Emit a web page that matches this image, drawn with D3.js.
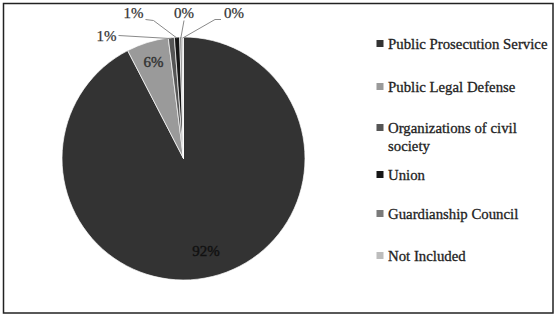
<!DOCTYPE html>
<html lang="en">
  <head>
    <meta charset="utf-8">
    <title>Pie chart</title>
    <style>
      body { margin: 0; background: #fff; }
      text { font-family: "Liberation Serif", "DejaVu Serif", serif; }
    </style>
  </head>
  <body>
    <div id="chart"></div>
    <script src="https://cdn.jsdelivr.net/npm/d3@7"></script>
    <script>
      // data
      var categories = ["Public Prosecution Service", "Public Legal Defense", "Organizations of civil society",
                        "Union", "Guardianship Council", "Not Included"];
      var shares = [92.4, 5.6, 0.8, 0.7, 0.3, 0.2];
      var shareLabels = ["92%", "6%", "1%", "1%", "0%", "0%"];
      var colors = ["#333333", "#9a9a9a", "#555555", "#161616", "#7a7a7a", "#bdbdbd"];

      // legend lines (the third entry wraps)
      var legendLines = [["Public Prosecution Service"], ["Public Legal Defense"], ["Organizations of civil", "society"],
                         ["Union"], ["Guardianship Council"], ["Not Included"]];

      var W = 558, H = 317;
      var cx = 183.5, cy = 158.5, r = 121.5;

      var svg = d3.select("#chart").append("svg")
        .attr("width", W).attr("height", H);

      svg.append("rect")
        .attr("x", 3.5).attr("y", 3.5)
        .attr("width", 549.5).attr("height", 309.5)
        .attr("fill", "#fff").attr("stroke", "#222").attr("stroke-width", 1.5);

      var pie = d3.pie().sort(null).value(function(d) { return d; });
      var arcs = pie(shares);
      var arc = d3.arc().innerRadius(0).outerRadius(r);

      var g = svg.append("g").attr("transform", "translate(" + cx + "," + cy + ")");

      g.selectAll("path.slice")
        .data(arcs)
        .enter().append("path")
          .attr("class", "slice")
          .attr("d", arc)
          .attr("fill", function(d, i) { return colors[i]; })
          .attr("stroke", "#fff")
          .attr("stroke-width", 0.7);

      // label placement (relative to pie centre); null = inside the slice
      var calloutAt = [null, null, [-77, -123], [-50, -146], [0.5, -146], [50.5, -146]];
      var insideR = [0.78, 0.83];
      var insideInk = ["#111", "#333"];

      arcs.forEach(function(d, i) {
        var mid = (d.startAngle + d.endAngle) / 2;
        if (calloutAt[i] === null) {
          var rr = r * insideR[i];
          g.append("text")
            .attr("x", Math.sin(mid) * rr)
            .attr("y", -Math.cos(mid) * rr)
            .attr("dy", "0.35em")
            .attr("text-anchor", "middle")
            .attr("font-size", 15)
            .attr("fill", insideInk[i])
            .attr("stroke", insideInk[i]).attr("stroke-width", 0.4)
            .text(shareLabels[i]);
        } else {
          var p = calloutAt[i];
          var ex = Math.sin(mid) * (r - 1), ey = -Math.cos(mid) * (r - 1);
          var sx, sy;
          if (i === 2) { sx = p[0] + 12; sy = p[1]; }
          else if (i === 3) { sx = p[0] + 12; sy = p[1] + 7; }
          else if (i === 4) { sx = p[0]; sy = p[1] + 8; }
          else { sx = p[0] - 13; sy = p[1] + 7; }
          var pts = [[sx, sy]];
          if (i === 3) pts.push([sx + 8, sy + 1]);
          if (i === 5) pts.push([sx - 6, sy]);
          pts.push([ex, ey]);
          g.append("path")
            .attr("d", d3.line()(pts))
            .attr("fill", "none")
            .attr("stroke", "#8a8a8a")
            .attr("stroke-width", 1);
          g.append("text")
            .attr("x", p[0]).attr("y", p[1])
            .attr("dy", "0.35em")
            .attr("text-anchor", "middle")
            .attr("font-size", 15)
            .attr("fill", "#333")
            .attr("stroke", "#333").attr("stroke-width", 0.25)
            .text(shareLabels[i]);
        }
      });

      // legend
      var legendY = [44, 87, 128, 175, 214, 256];
      var legend = svg.append("g");
      legendLines.forEach(function(lines, i) {
        legend.append("rect")
          .attr("x", 376.5).attr("y", legendY[i] - 4)
          .attr("width", 7).attr("height", 7)
          .attr("fill", colors[i]);
        lines.forEach(function(t, j) {
          legend.append("text")
            .attr("x", 388).attr("y", legendY[i] + j * 18)
            .attr("dy", "0.35em")
            .attr("font-size", 14.8)
            .attr("fill", "#222")
            .attr("stroke", "#222").attr("stroke-width", 0.3)
            .text(t);
        });
      });
    </script>
  </body>
</html>
